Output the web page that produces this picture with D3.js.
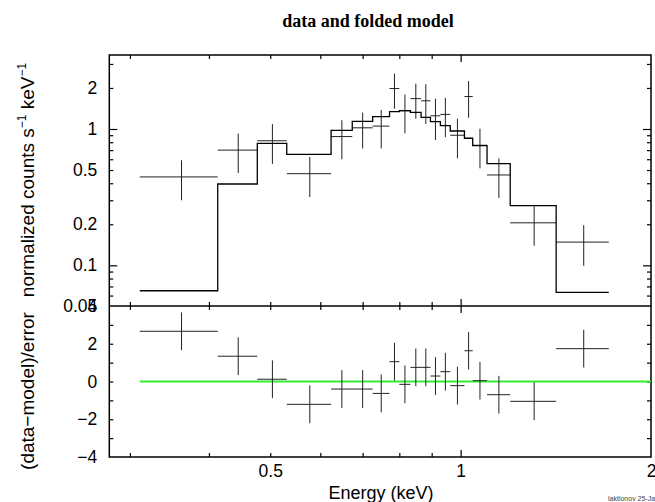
<!DOCTYPE html>
<html>
<head>
<meta charset="utf-8">
<script src="https://cdn.jsdelivr.net/npm/d3@7"></script>
<style>
  body { margin: 0; background: #fff; }
  text { font-family: "Liberation Sans", Arial, sans-serif; }
</style>
</head>
<body>
<svg id="chart"></svg>
<script>
const width = 655;
const height = 502;

// channel energy boundaries (keV), 19 channels
const edges = [0.311, 0.413, 0.477, 0.531, 0.624, 0.674, 0.726, 0.772, 0.800, 0.833,
               0.866, 0.896, 0.929, 0.963, 1.014, 1.045, 1.101, 1.198, 1.416, 1.715];
// data: normalized counts s^-1 keV^-1
const rate    = [0.445, 0.70, 0.82, 0.47, 0.88, 1.02, 1.05, 1.98, 1.36, 1.67,
                 1.61, 1.25, 1.28, 0.90, 1.73, 0.76, 0.46, 0.205, 0.148];
const rateErr = [0.145, 0.225, 0.265, 0.153, 0.28, 0.30, 0.33, 0.57, 0.43, 0.48,
                 0.52, 0.42, 0.41, 0.29, 0.52, 0.245, 0.148, 0.066, 0.049];
// folded model
const model   = [0.0651, 0.395, 0.785, 0.652, 0.978, 1.139, 1.231, 1.339, 1.362, 1.326,
                 1.218, 1.131, 1.057, 0.967, 0.855, 0.754, 0.558, 0.2737, 0.0634];
// residuals (data-model)/error
const resid    = [2.66, 1.34, 0.12, -1.21, -0.40, -0.40, -0.63, 1.05, -0.15, 0.75,
                  0.75, 0.29, 0.52, -0.22, 1.63, 0.04, -0.70, -1.05, 1.74];
const residErr = [1, 1, 1, 1, 1, 1, 1, 1, 1, 1, 1, 1, 1, 1, 1, 1, 1, 1, 1];

// ticks
const xMinorTicks = [0.3, 0.4, 0.5, 0.6, 0.7, 0.8, 0.9];
const xMajorTicks = [1];
const xLabels = [0.5, 1, 2];
const yMinorTicks = [0.06, 0.07, 0.08, 0.09, 0.2, 0.3, 0.4, 0.5, 0.6, 0.7, 0.8, 0.9, 2, 3];
const yMajorTicks = [0.1, 1];
const yLabels = [0.05, 0.1, 0.2, 0.5, 1, 2];
const rTicks = [-3, -2, -1, 0, 1, 2, 3];
const rLabels = [-4, -2, 0, 2, 4];

// frame
const fLeft = 109.3, fRight = 651, fTop = 55, fMid = 306, fBottom = 457;

const svg = d3.select("#chart")
    .attr("width", width)
    .attr("height", height);

const x = d3.scaleLog().domain([0.2783, 2]).range([fLeft, fRight]);
const yTop = d3.scaleLog().domain([0.0503, 3.49]).range([fMid, fTop]);
const yBot = d3.scaleLinear().domain([-4, 4]).range([fBottom, fMid]);

// tick helper: draws inward ticks with no labels
function ticks(axisFn, scale, values, size, tx, ty) {
    const g = svg.append("g")
        .attr("transform", `translate(${tx},${ty})`)
        .call(axisFn(scale).tickValues(values).tickSizeInner(-size).tickSizeOuter(0).tickFormat(""));
    g.select(".domain").remove();
    g.selectAll("line").attr("stroke", "#000").attr("stroke-width", 1.2);
}

// x ticks on top edge, divider (both sides) and bottom edge
[[d3.axisTop, fTop], [d3.axisBottom, fMid], [d3.axisTop, fMid], [d3.axisBottom, fBottom]]
    .forEach(([fn, yy]) => {
        ticks(fn, x, xMinorTicks, 4, 0, yy);
        ticks(fn, x, xMajorTicks, 7, 0, yy);
    });

// y ticks for top panel
ticks(d3.axisLeft, yTop, yMinorTicks, 4, fLeft, 0);
ticks(d3.axisLeft, yTop, yMajorTicks, 8, fLeft, 0);
ticks(d3.axisRight, yTop, yMinorTicks, 4, fRight, 0);
ticks(d3.axisRight, yTop, yMajorTicks, 8, fRight, 0);

// y ticks for residual panel
ticks(d3.axisLeft, yBot, rTicks, 4, fLeft, 0);
ticks(d3.axisRight, yBot, rTicks, 4, fRight, 0);

// labels
function labels(axisFn, scale, values, fmt, pad, tx, ty) {
    const g = svg.append("g")
        .attr("transform", `translate(${tx},${ty})`)
        .call(axisFn(scale).tickValues(values).tickSize(0).tickPadding(pad).tickFormat(fmt));
    g.select(".domain").remove();
    g.selectAll("text")
        .attr("font-size", 17.5)
        .attr("fill", "#000");
    return g;
}
labels(d3.axisBottom, x, xLabels, d => String(d), 8, 0, fBottom);
labels(d3.axisLeft, yTop, yLabels, d => String(d), 12, fLeft, 0);
labels(d3.axisLeft, yBot, rLabels, d3.format("d"), 12, fLeft, 0);

// frame
svg.append("rect")
    .attr("x", fLeft).attr("y", fTop)
    .attr("width", fRight - fLeft).attr("height", fBottom - fTop)
    .attr("fill", "none").attr("stroke", "#000").attr("stroke-width", 1.5);
svg.append("line")
    .attr("x1", fLeft).attr("x2", fRight)
    .attr("y1", fMid).attr("y2", fMid)
    .attr("stroke", "#000").attr("stroke-width", 1.5);

const bins = rate.map((r, i) => ({
    lo: edges[i], hi: edges[i + 1], c: (edges[i] + edges[i + 1]) / 2,
    r, e: rateErr[i], m: model[i], res: resid[i], re: residErr[i]
}));

// data crosses (top)
const cross = svg.append("g").attr("stroke", "#222").attr("stroke-width", 1);
cross.selectAll(".h").data(bins).enter().append("line")
    .attr("x1", d => x(d.lo)).attr("x2", d => x(d.hi))
    .attr("y1", d => yTop(d.r)).attr("y2", d => yTop(d.r));
cross.selectAll(".v").data(bins).enter().append("line")
    .attr("x1", d => x(d.c)).attr("x2", d => x(d.c))
    .attr("y1", d => yTop(d.r - d.e)).attr("y2", d => yTop(d.r + d.e));

// folded model histogram
const steps = bins.flatMap(d => [[d.lo, d.m], [d.hi, d.m]]);
svg.append("path")
    .datum(steps)
    .attr("fill", "none")
    .attr("stroke", "#000")
    .attr("stroke-width", 1.3)
    .attr("d", d3.line().x(d => x(d[0])).y(d => yTop(d[1])));

// zero line in residual panel
svg.append("line")
    .attr("x1", x(edges[0])).attr("x2", x(2))
    .attr("y1", yBot(0)).attr("y2", yBot(0))
    .attr("stroke", "#33ee33").attr("stroke-width", 2);

// residual crosses
const rc = svg.append("g").attr("stroke", "#222").attr("stroke-width", 1);
rc.selectAll(".h").data(bins).enter().append("line")
    .attr("x1", d => x(d.lo)).attr("x2", d => x(d.hi))
    .attr("y1", d => yBot(d.res)).attr("y2", d => yBot(d.res));
rc.selectAll(".v").data(bins).enter().append("line")
    .attr("x1", d => x(d.c)).attr("x2", d => x(d.c))
    .attr("y1", d => yBot(d.res - d.re)).attr("y2", d => yBot(d.res + d.re));

// title (serif bold, as in the plot package)
svg.append("text")
    .attr("x", 368).attr("y", 27)
    .attr("text-anchor", "middle")
    .style("font-family", "'Liberation Serif', 'Times New Roman', serif")
    .attr("font-weight", "bold")
    .attr("font-size", 18)
    .text("data and folded model");

// x title
svg.append("text")
    .attr("x", 381).attr("y", 499)
    .attr("text-anchor", "middle")
    .attr("font-size", 18)
    .text("Energy (keV)");

// y titles
const yt = svg.append("text")
    .attr("transform", "translate(34,180) rotate(-90)")
    .attr("text-anchor", "middle")
    .attr("font-size", 19);
yt.append("tspan").text("normalized counts s");
yt.append("tspan").attr("font-size", 12).attr("dy", -8).text("−1");
yt.append("tspan").attr("dy", 8).text(" keV");
yt.append("tspan").attr("font-size", 12).attr("dy", -8).text("−1");

svg.append("text")
    .attr("transform", "translate(34,391) rotate(-90)")
    .attr("text-anchor", "middle")
    .attr("font-size", 19)
    .text("(data−model)/error");

// stamp
svg.append("text")
    .attr("x", 608).attr("y", 501)
    .attr("font-size", 7)
    .attr("fill", "#444")
    .text("laktionov 25-Jan-2021 12:00");
</script>
</body>
</html>
